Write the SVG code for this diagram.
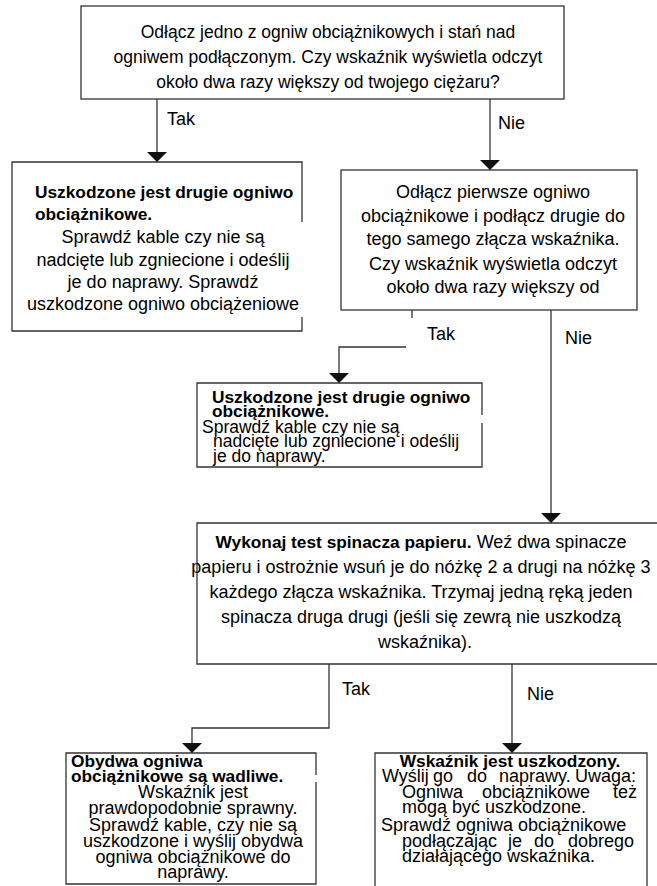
<svg xmlns="http://www.w3.org/2000/svg" width="657" height="886" viewBox="0 0 657 886">
<style>
text{font-family:"Liberation Sans",Arial,sans-serif;font-size:18px;fill:#000}
.b{font-weight:bold;font-size:17.3px}
.c{text-anchor:middle}
.box{fill:#fff;stroke:#333;stroke-width:1.3}
.frame{fill:none;stroke:#333;stroke-width:1.3}
.ln{fill:none;stroke:#333;stroke-width:1.3}
.lab{fill:#fff;stroke:none}
.t{font-size:17.5px}
</style>
<defs>
<marker id="ah" markerUnits="userSpaceOnUse" viewBox="0 0 10 20" refX="10" refY="10" markerWidth="10" markerHeight="20" orient="auto">
<path d="M0,0 L10,10 L0,20 Z" fill="#111"/>
</marker>
</defs>

<g id="connectors">
<path class="ln" d="M157,99 V162" marker-end="url(#ah)"/>
<path class="ln" d="M490,99 V170" marker-end="url(#ah)"/>
<path class="ln" d="M412,310 V347 H339 V383" marker-end="url(#ah)"/>
<path class="ln" d="M551,310 V523" marker-end="url(#ah)"/>
<path class="ln" d="M329,664 V728 H192 V753" marker-end="url(#ah)"/>
<path class="ln" d="M512,664 V753" marker-end="url(#ah)"/>
<rect class="lab" x="406" y="318" width="62" height="31"/>
<text x="167" y="125">Tak</text>
<text x="498" y="129">Nie</text>
<text x="427" y="340">Tak</text>
<text x="565" y="344">Nie</text>
<text x="342" y="695">Tak</text>
<text x="527" y="700">Nie</text>
</g>

<g id="n1">
<rect class="box" x="81" y="6" width="483" height="93"/>
<text class="c t" x="328" y="38">Odłącz jedno z ogniw obciążnikowych i stań nad</text>
<text class="c t" x="328" y="63">ogniwem podłączonym. Czy wskaźnik wyświetla odczyt</text>
<text class="c t" x="328" y="88">około dwa razy większy od twojego ciężaru?</text>
</g>

<g id="n2">
<rect x="12" y="162" width="290" height="169" fill="#fff"/>
<path class="frame" d="M302,222 V162 H12 V331 H302 V317"/>
<text class="b" x="35" y="198">Uszkodzone jest drugie ogniwo</text>
<text class="b" x="35" y="220">obciążnikowe.</text>
<text class="c" x="163" y="243">Sprawdź kable czy nie są</text>
<text class="c" x="163" y="266">nadcięte lub zgniecione i odeślij</text>
<text class="c" x="163" y="288">je do naprawy. Sprawdź</text>
<text class="c" x="163" y="310">uszkodzone ogniwo obciążeniowe</text>
</g>

<g id="n3">
<rect class="box" x="341" y="170" width="296" height="140"/>
<text class="c" x="493" y="198">Odłącz pierwsze ogniwo</text>
<text class="c" x="493" y="222">obciążnikowe i podłącz drugie do</text>
<text class="c" x="493" y="245">tego samego złącza wskaźnika.</text>
<text class="c" x="493" y="270">Czy wskaźnik wyświetla odczyt</text>
<text class="c" x="493" y="293">około dwa razy większy od</text>
</g>

<g id="n4">
<rect x="197" y="383" width="285" height="84" fill="#fff"/>
<path class="frame" d="M482,415 V383 H197 V467 H482 V423"/>
<text class="b" x="212" y="403">Uszkodzone jest drugie ogniwo</text>
<text class="b" x="212" y="417">obciążnikowe.</text>
<text class="t" x="202" y="433">Sprawdź kable czy nie są</text>
<text class="t" x="213" y="447">nadcięte lub zgniecione i odeślij</text>
<text class="t" x="213" y="462">je do naprawy.</text>
</g>

<g id="n5">
<rect x="197" y="523" width="465" height="141" fill="#fff"/>
<path class="frame" d="M662,523 H197 V664 H662"/>
<text class="c" x="421" y="548"><tspan class="b">Wykonaj test spinacza papieru.</tspan> Weź dwa spinacze</text>
<text class="c" x="421" y="573">papieru i ostrożnie wsuń je do nóżkę 2 a drugi na nóżkę 3</text>
<text class="c" x="421" y="598">każdego złącza wskaźnika. Trzymaj jedną ręką jeden</text>
<text class="c" x="421" y="623">spinacza druga drugi (jeśli się zewrą nie uszkodzą</text>
<text class="c" x="425" y="648">wskaźnika).</text>
</g>

<g id="n6">
<rect x="66" y="753" width="250" height="131" fill="#fff"/>
<path class="frame" d="M316,775 V753 H66 V884 H316 V782"/>
<text class="b" x="71" y="767">Obydwa ogniwa</text>
<text class="b" x="71" y="782">obciążnikowe są wadliwe.</text>
<text class="c" x="193" y="798">Wskaźnik jest</text>
<text class="c" x="193" y="814">prawdopodobnie sprawny.</text>
<text class="c" x="193" y="831">Sprawdź kable, czy nie są</text>
<text class="c" x="193" y="847">uszkodzone i wyślij obydwa</text>
<text class="c" x="193" y="863">ogniwa obciążnikowe do</text>
<text class="c" x="193" y="878">naprawy.</text>
</g>

<g id="n7">
<rect x="375" y="753" width="272" height="140" fill="#fff"/>
<path class="frame" d="M375,892 V753 H647 V892"/>
<text class="b c" x="510" y="767">Wskaźnik jest uszkodzony.</text>
<text y="782"><tspan x="382">Wyślij</tspan><tspan x="433">go</tspan><tspan x="467">do</tspan><tspan x="499">naprawy.</tspan><tspan x="575">Uwaga:</tspan></text>
<text y="798"><tspan x="402">Ogniwa</tspan><tspan x="482">obciążnikowe</tspan><tspan x="613">też</tspan></text>
<text x="402" y="813">mogą być uszkodzone.</text>
<text x="381" y="831">Sprawdź ogniwa obciążnikowe</text>
<text y="847"><tspan x="402">podłączając</tspan><tspan x="508">je</tspan><tspan x="534">do</tspan><tspan x="568">dobrego</tspan></text>
<text x="402" y="862">działającego wskaźnika.</text>
</g>
</svg>
